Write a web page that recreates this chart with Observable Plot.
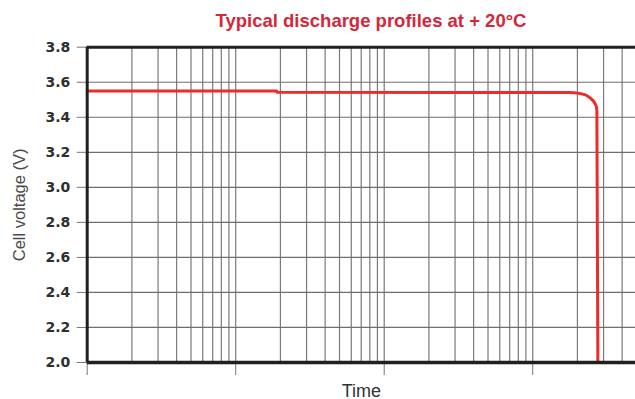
<!DOCTYPE html>
<html>
<head>
<meta charset="utf-8">
<script src="https://cdn.jsdelivr.net/npm/d3@7"></script>
<script src="https://cdn.jsdelivr.net/npm/@observablehq/plot@0.6"></script>
<style>
  html, body { margin: 0; padding: 0; background: #fff; }
  #title {
    height: 38px; box-sizing: border-box; width: 635px;
    padding-left: 107px; padding-top: 11.6px;
    text-align: center; white-space: nowrap;
    font: bold 18.5px "Liberation Sans", Arial, sans-serif; line-height: 1;
    color: #d3283a;
  }
  svg { display: block; }
</style>
</head>
<body>
<div id="title">Typical discharge profiles at + 20°C</div>
<div id="chart"></div>
<script>
// Discharge profile (time on log axis, arbitrary units)
const times = [1, 18.9, 19, 500, 1730, 2109, 2463, 2662, 2704, 2746];
const volts = [3.550, 3.550, 3.543, 3.542, 3.541, 3.535, 3.507, 3.469, 3.44, 2.0];

// Axis ticks / grid
const voltTicks = [2.0, 2.2, 2.4, 2.6, 2.8, 3.0, 3.2, 3.4, 3.6, 3.8];
const decadeTicks = [1, 10, 100, 1000];
const gridTimes = [2, 3, 4, 5, 6, 7, 8, 9, 10, 20, 30, 40, 50, 60, 70, 80, 90, 100,
  200, 300, 400, 500, 600, 700, 800, 900, 1000, 2000, 3000, 4000];
const timeDomain = [1, 4922];
const voltDomain = [2.0, 3.8];

const data = times.map((t, i) => ({t, v: volts[i]}));
const inner = voltTicks.filter(v => v > voltDomain[0] && v < voltDomain[1]);

const chart = Plot.plot({
  width: 635,
  height: 361,
  marginLeft: 86.7,
  marginRight: 0,
  marginTop: 8.7,
  marginBottom: 37,
  style: {fontFamily: "DejaVu Sans", background: "#fff", overflow: "visible"},
  x: {type: "log", domain: timeDomain},
  y: {domain: voltDomain},
  marks: [
    Plot.ruleX(gridTimes, {stroke: "#7a7a7a", strokeWidth: 1.2}),
    Plot.ruleY(inner, {stroke: "#6e6e6e", strokeWidth: 1.2}),
    Plot.axisY({ticks: voltTicks, tickFormat: d => d.toFixed(1), tickSize: 10, tickPadding: 7,
      fontSize: 14, fontWeight: "bold", fill: "#2e2e2e", stroke: "#777", label: null}),
    Plot.axisX({ticks: decadeTicks, tickFormat: () => "", tickSize: 13, stroke: "#777", label: null}),
    Plot.line(data, {x: "t", y: "v", stroke: "#ee2a2a", strokeWidth: 3, curve: "monotone-x"}),
    Plot.ruleY([voltDomain[1]], {stroke: "#231f20", strokeWidth: 3}),
    Plot.ruleY([voltDomain[0]], {stroke: "#231f20", strokeWidth: 3.5}),
    Plot.ruleX([timeDomain[0]], {stroke: "#231f20", strokeWidth: 3}),
    Plot.text(["Time"], {frameAnchor: "bottom", dy: 34, fontSize: 18, fontFamily: "Liberation Sans",
      fill: "#333", lineAnchor: "bottom"}),
    Plot.text(["Cell voltage (V)"], {frameAnchor: "left", dx: -67.5, rotate: -90, textAnchor: "middle",
      lineAnchor: "middle", fontSize: 16.5, fontFamily: "Liberation Sans", fill: "#4a4a4a"})
  ]
});
document.getElementById("chart").append(chart);
</script>
</body>
</html>
